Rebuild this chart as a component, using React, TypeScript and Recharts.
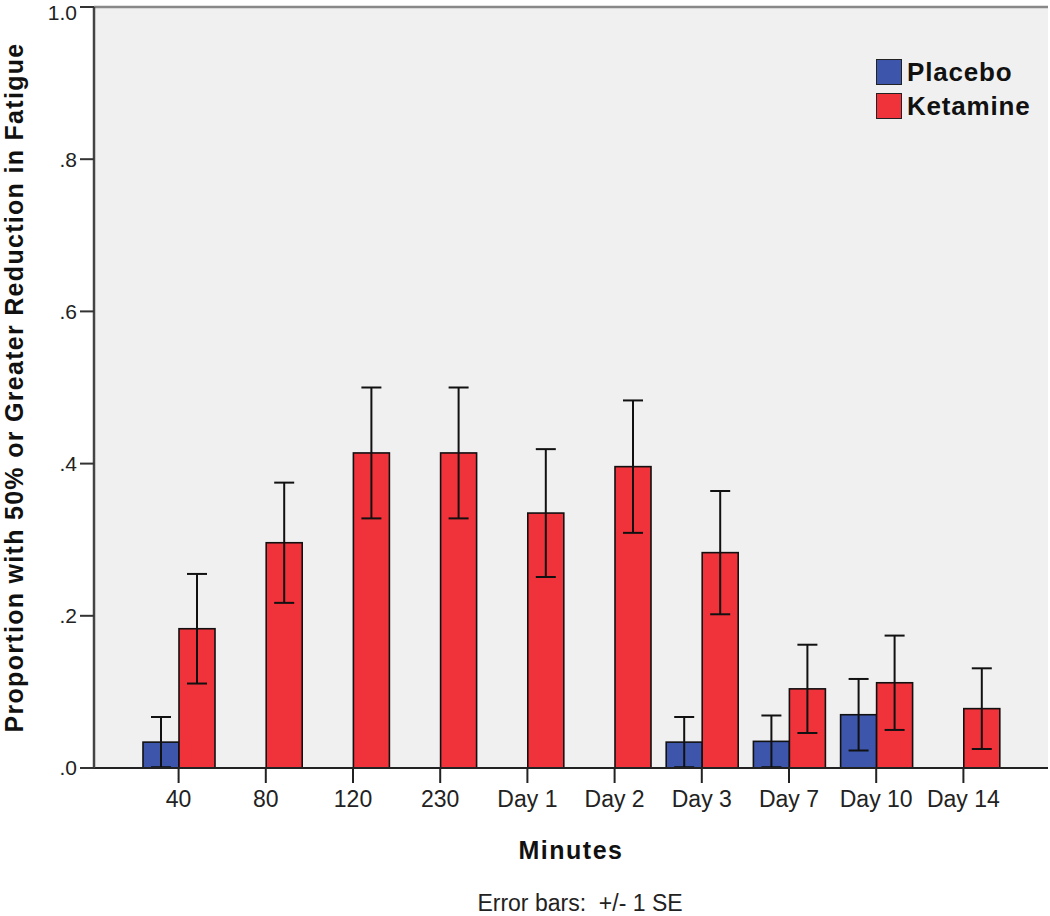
import * as React from "react"
import { BarChart, Bar, XAxis, YAxis, ErrorBar, CartesianGrid, ReferenceLine } from "recharts"

const timepoints = ["40", "80", "120", "230", "Day 1", "Day 2", "Day 3", "Day 7", "Day 10", "Day 14"]
const placebo = [0.034, 0, 0, 0, 0, 0, 0.034, 0.035, 0.07, 0]
const placeboSE = [0.033, 0, 0, 0, 0, 0, 0.033, 0.034, 0.047, 0]
const ketamine = [0.183, 0.296, 0.414, 0.414, 0.335, 0.396, 0.283, 0.104, 0.112, 0.078]
const ketamineSE = [0.072, 0.079, 0.086, 0.086, 0.084, 0.087, 0.081, 0.058, 0.062, 0.053]
const yTicks = [0, 0.2, 0.4, 0.6, 0.8, 1.0]

const data = timepoints.map((t, i) => ({
  time: t,
  placebo: placebo[i],
  placeboSE: placeboSE[i],
  ketamine: ketamine[i],
  ketamineSE: ketamineSE[i],
}))

const FONT = "'Liberation Sans', Arial, sans-serif"
const BLUE = "#3d56ab"
const RED = "#f0323b"

const fmtY = (v: number) => (v === 1 ? "1.0" : v.toFixed(1).replace(/^0/, ""))

// SPSS draws empty groups as a flat line on the baseline
function BarShape(props: any) {
  const { x, y, width, height, fill } = props
  if (!height || height <= 0) {
    return <line x1={x} x2={x + width} y1={y} y2={y} stroke="#333" strokeWidth={1.5} />
  }
  return <rect x={x} y={y} width={width} height={height} fill={fill} stroke="#111" strokeWidth={1.6} />
}

function LegendBox() {
  const items = [
    { label: "Placebo", color: BLUE },
    { label: "Ketamine", color: RED },
  ]
  return (
    <div style={{ position: "absolute", left: 876, top: 55, fontFamily: FONT }}>
      {items.map((it) => (
        <div key={it.label} style={{ display: "flex", alignItems: "center", height: 34 }}>
          <div style={{ width: 24, height: 24, background: it.color, border: "1.5px solid #222", marginRight: 5 }} />
          <span style={{ fontSize: 26, fontWeight: 700, letterSpacing: 0.8, color: "#111" }}>{it.label}</span>
        </div>
      ))}
    </div>
  )
}

export default function App() {
  return (
    <div style={{ position: "absolute", left: 0, top: 0, width: 1050, height: 916, background: "#fff" }}>
      <BarChart width={1050} height={916} data={data} margin={{ top: 7, right: 2, left: 0, bottom: 48 }} barGap={0}>
        <CartesianGrid fill="#f0f0f0" horizontal={false} vertical={false} />
        <XAxis
          dataKey="time"
          padding={{ left: 41, right: 41 }}
          height={100}
          tickSize={15}
          tickMargin={8}
          tick={{ fontSize: 23, fill: "#222", fontFamily: FONT }}
          axisLine={{ stroke: "#222", strokeWidth: 2 }}
          tickLine={{ stroke: "#222", strokeWidth: 2 }}
          label={{
            value: "Minutes",
            position: "insideBottom",
            offset: 9,
            style: { fontSize: 25, fontWeight: 700, letterSpacing: 1.5, fill: "#111", fontFamily: FONT },
          }}
        />
        <YAxis
          domain={[0, 1]}
          ticks={yTicks}
          width={94}
          tickSize={14}
          tickMargin={3}
          tickFormatter={fmtY}
          tick={{ fontSize: 21, fill: "#222", fontFamily: FONT }}
          axisLine={{ stroke: "#444", strokeWidth: 2.5 }}
          tickLine={{ stroke: "#333", strokeWidth: 2 }}
          label={{
            value: "Proportion with 50% or Greater Reduction in Fatigue",
            angle: -90,
            position: "insideLeft",
            offset: 14,
            style: { textAnchor: "middle", fontSize: 25, fontWeight: 700, letterSpacing: 1.3, fill: "#111", fontFamily: FONT },
          }}
        />
        <YAxis
          yAxisId="border"
          orientation="right"
          domain={[0, 1]}
          width={0}
          tick={false}
          tickLine={false}
          axisLine={{ stroke: "#999", strokeWidth: 2.5 }}
        />
        <ReferenceLine y={1} stroke="#888" strokeWidth={2.5} />
        <Bar dataKey="placebo" name="Placebo" fill={BLUE} barSize={36} shape={BarShape} isAnimationActive={false}>
          <ErrorBar dataKey="placeboSE" width={10} stroke="#111" strokeWidth={2} />
        </Bar>
        <Bar dataKey="ketamine" name="Ketamine" fill={RED} barSize={36} shape={BarShape} isAnimationActive={false}>
          <ErrorBar dataKey="ketamineSE" width={10} stroke="#111" strokeWidth={2} />
        </Bar>
      </BarChart>
      <LegendBox />
      <div
        style={{
          position: "absolute",
          top: 892,
          left: 0,
          width: 1160,
          textAlign: "center",
          fontFamily: FONT,
          fontSize: 23,
          lineHeight: "23px",
          color: "#222",
          whiteSpace: "pre",
        }}
      >
        {"Error bars:  +/- 1 SE"}
      </div>
    </div>
  )
}
